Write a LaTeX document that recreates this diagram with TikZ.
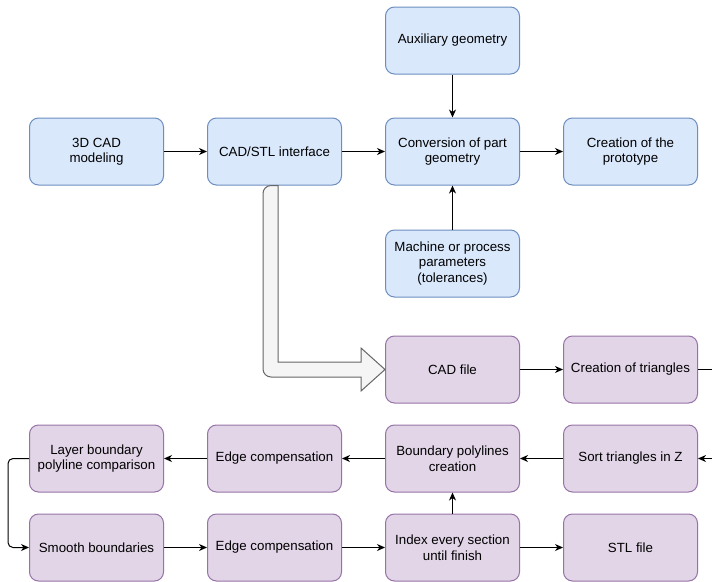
\documentclass[tikz,border=0pt]{standalone}
\usepackage{fontspec}
\setmainfont{Liberation Sans}
\usetikzlibrary{positioning, arrows.meta}
\definecolor{blueFill}{HTML}{DAE8FC}
\definecolor{blueLine}{HTML}{6C8EBF}
\definecolor{purpleFill}{HTML}{E1D5E7}
\definecolor{purpleLine}{HTML}{9673A6}
\definecolor{hollowFill}{HTML}{F5F5F5}
\definecolor{hollowLine}{HTML}{666666}
\tikzset{
    objBlue/.style={rectangle, rounded corners=9pt, minimum width=134pt, minimum height=67pt, align=center, draw=blueLine, fill=blueFill, line width=1pt, font=\fontsize{13.3}{15.5}\selectfont},
    objPurple/.style={rectangle, rounded corners=9pt, minimum width=134pt, minimum height=67pt, align=center, draw=purpleLine, fill=purpleFill, line width=1pt, font=\fontsize{13.3}{15.5}\selectfont},
    arrow/.style={line width=1pt, -{Stealth[length=8pt, width=7pt, inset=2.5pt]}},
    hollowArrow/.style={line width=1pt, draw=hollowLine, fill=hollowFill}
}
\begin{document}
\begin{tikzpicture}[x=1pt, y=-1pt, node distance=43pt]
    \useasboundingbox (0,0) rectangle (712,581);

    \node (001) [objBlue] at (96.5,151.5) {3D CAD\\modeling};
    \node (002) [objBlue, right=of 001] {CAD/STL interface};
    \node (003) [objBlue, right=of 002] {Conversion of part\\geometry};
    \node (004) [objBlue, right=of 003] {Creation of the\\prototype};
    \node (005) [objBlue, above=of 003] {Auxiliary geometry};
    \node (006) [objBlue, below=44pt of 003] {Machine or process\\parameters\\(tolerances)};
    \node (007) [objPurple, below=38pt of 006] {CAD file};
    \node (008) [objPurple, right=of 007] {Creation of triangles};
    \node (009) [objPurple, below=21pt of 008] {Sort triangles in Z};
    \node (010) [objPurple, left=of 009] {Boundary polylines\\creation};
    \node (011) [objPurple, left=of 010] {Edge compensation};
    \node (012) [objPurple, left=of 011] {Layer boundary\\polyline comparison};
    \node (013) [objPurple, below=21pt of 010] {Index every section\\until finish};
    \node (014) [objPurple, left=of 013] {Edge compensation};
    \node (015) [objPurple, left=of 014] {Smooth boundaries};
    \node (016) [objPurple, right=of 013] {STL file};
    \coordinate (017) at ([xshift=30pt]008.east);

    \draw [arrow] (001) -- (002);
    \draw [arrow] (002) -- (003);
    \draw [arrow] (003) -- (004);
    \draw [arrow] (005) -- (003);
    \draw [arrow] (006) -- (003);
    \draw [arrow] (007) -- (008);
    \draw [arrow] (008.east) -- (017) |- (009.east);
    \draw [arrow] (009) -- (010);
    \draw [arrow] (010) -- (011);
    \draw [arrow] (011) -- (012);
    \draw [arrow, rounded corners=5pt] (012.west) -- ++(-21,0) |- (015.west);
    \draw [arrow] (015) -- (014);
    \draw [arrow] (014) -- (013);
    \draw [arrow] (013) -- (016);
    \draw [arrow] (013) -- (010);

    \draw [hollowArrow] ([xshift=3.5pt]002.south) |- ([xshift=-24pt, yshift=7.5pt]007.west) -- ([xshift=-24pt, yshift=21.5pt]007.west) -- (007.west) -- ([xshift=-24pt, yshift=-21.5pt]007.west) -- ([xshift=-24pt, yshift=-7.5pt]007.west) [rounded corners=8pt] -| ([xshift=-11.5pt]002.south) [sharp corners] -- cycle;

\end{tikzpicture}
\end{document}
